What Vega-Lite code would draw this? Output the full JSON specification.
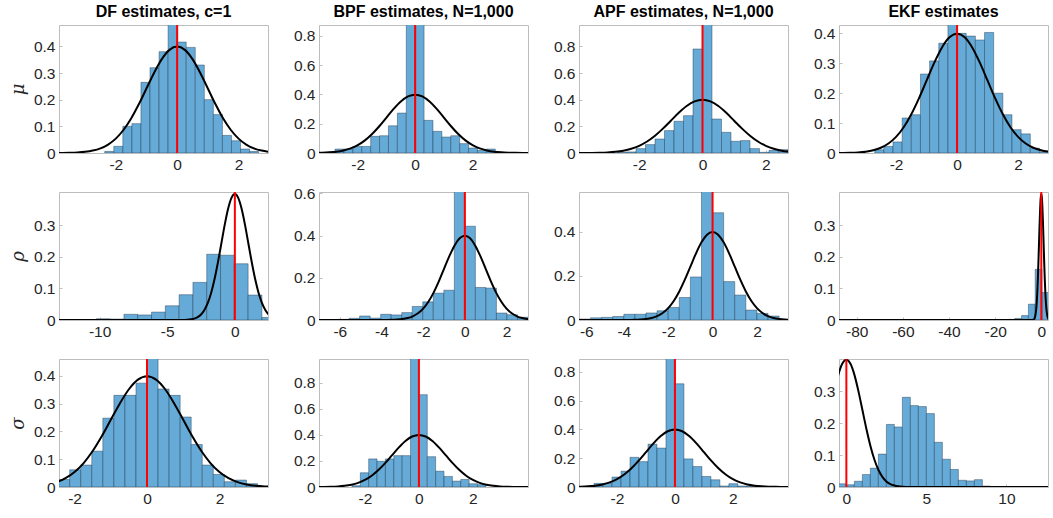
{
"$schema":"https://vega.github.io/schema/vega-lite/v6.json",
"background":"white",
"padding":{"left":8,"top":3,"right":5,"bottom":5},
"bounds":"flush",
"columns":4,
"spacing":{"row":39,"column":51},
"config":{
 "view":{"stroke":"#bdbdbd","strokeWidth":1},
 "axis":{"grid":false,"domain":false,"tickColor":"#bdbdbd","tickSize":-3,"tickCount":12,"labelPadding":7,"labelFont":"Liberation Sans","labelFontSize":15.5,"labelColor":"#262626","labelOverlap":false,"labelBound":false},
 "axisY":{"titleFont":"DejaVu Serif","titleFontStyle":"italic","titleFontWeight":"normal","titleFontSize":18,"titleColor":"#262626","titlePadding":6},
 "title":{"font":"Liberation Sans","fontSize":16,"fontWeight":"bold","color":"#000000","offset":4}
},
"datasets":{
 "ref":[{"x":0}],
 "curve":[{"x":-90,"y":0},{"x":-6,"y":0},{"x":-5,"y":0.0000015},{"x":-4.5,"y":0.000016},{"x":-4,"y":0.000134},{"x":-3.75,"y":0.000353},{"x":-3.5,"y":0.000873},{"x":-3.25,"y":0.00203},{"x":-3,"y":0.00443},{"x":-2.75,"y":0.00909},{"x":-2.5,"y":0.01753},{"x":-2.25,"y":0.03174},{"x":-2,"y":0.05399},{"x":-1.75,"y":0.08628},{"x":-1.5,"y":0.12952},{"x":-1.25,"y":0.18265},{"x":-1,"y":0.24197},{"x":-0.75,"y":0.30114},{"x":-0.5,"y":0.35207},{"x":-0.25,"y":0.38667},{"x":0,"y":0.39894},{"x":0.25,"y":0.38667},{"x":0.5,"y":0.35207},{"x":0.75,"y":0.30114},{"x":1,"y":0.24197},{"x":1.25,"y":0.18265},{"x":1.5,"y":0.12952},{"x":1.75,"y":0.08628},{"x":2,"y":0.05399},{"x":2.25,"y":0.03174},{"x":2.5,"y":0.01753},{"x":2.75,"y":0.00909},{"x":3,"y":0.00443},{"x":3.25,"y":0.00203},{"x":3.5,"y":0.000873},{"x":3.75,"y":0.000353},{"x":4,"y":0.000134},{"x":4.5,"y":0.000016},{"x":5,"y":0.0000015},{"x":6,"y":0},{"x":13,"y":0}],
 "hist":[
 {"p":"m1","a":-2.36,"b":-2.065,"h":0.006},{"p":"m1","a":-2.065,"b":-1.77,"h":0.025},{"p":"m1","a":-1.77,"b":-1.475,"h":0.10},{"p":"m1","a":-1.475,"b":-1.18,"h":0.11},{"p":"m1","a":-1.18,"b":-0.885,"h":0.265},{"p":"m1","a":-0.885,"b":-0.59,"h":0.32},{"p":"m1","a":-0.59,"b":-0.295,"h":0.38},{"p":"m1","a":-0.295,"b":0,"h":0.52},{"p":"m1","a":0,"b":0.295,"h":0.416},{"p":"m1","a":0.295,"b":0.59,"h":0.396},{"p":"m1","a":0.59,"b":0.885,"h":0.33},{"p":"m1","a":0.885,"b":1.18,"h":0.20},{"p":"m1","a":1.18,"b":1.475,"h":0.144},{"p":"m1","a":1.475,"b":1.77,"h":0.066},{"p":"m1","a":1.77,"b":2.065,"h":0.046},{"p":"m1","a":2.065,"b":2.36,"h":0.015},{"p":"m1","a":2.36,"b":2.655,"h":0.006},
 {"p":"m2","a":-2.79,"b":-2.48,"h":0.027},{"p":"m2","a":-2.48,"b":-2.17,"h":0.027},{"p":"m2","a":-2.17,"b":-1.86,"h":0.045},{"p":"m2","a":-1.86,"b":-1.55,"h":0.045},{"p":"m2","a":-1.55,"b":-1.24,"h":0.114},{"p":"m2","a":-1.24,"b":-0.93,"h":0.118},{"p":"m2","a":-0.93,"b":-0.62,"h":0.186},{"p":"m2","a":-0.62,"b":-0.31,"h":0.273},{"p":"m2","a":-0.31,"b":0,"h":1.0},{"p":"m2","a":0,"b":0.31,"h":1.0},{"p":"m2","a":0.31,"b":0.62,"h":0.223},{"p":"m2","a":0.62,"b":0.93,"h":0.148},{"p":"m2","a":0.93,"b":1.24,"h":0.109},{"p":"m2","a":1.24,"b":1.55,"h":0.118},{"p":"m2","a":1.55,"b":1.86,"h":0.064},{"p":"m2","a":1.86,"b":2.17,"h":0.034},{"p":"m2","a":2.17,"b":2.48,"h":0.018},{"p":"m2","a":2.48,"b":2.79,"h":0.027},
 {"p":"m3","a":-2.7,"b":-2.4,"h":0.005},{"p":"m3","a":-2.4,"b":-2.1,"h":0.008},{"p":"m3","a":-2.1,"b":-1.8,"h":0.033},{"p":"m3","a":-1.8,"b":-1.5,"h":0.063},{"p":"m3","a":-1.5,"b":-1.2,"h":0.105},{"p":"m3","a":-1.2,"b":-0.9,"h":0.168},{"p":"m3","a":-0.9,"b":-0.6,"h":0.238},{"p":"m3","a":-0.6,"b":-0.3,"h":0.28},{"p":"m3","a":-0.3,"b":0,"h":0.78},{"p":"m3","a":0,"b":0.3,"h":1.1},{"p":"m3","a":0.3,"b":0.6,"h":0.255},{"p":"m3","a":0.6,"b":0.9,"h":0.155},{"p":"m3","a":0.9,"b":1.2,"h":0.088},{"p":"m3","a":1.2,"b":1.5,"h":0.093},{"p":"m3","a":1.5,"b":1.8,"h":0.033},{"p":"m3","a":1.8,"b":2.1,"h":0.005},{"p":"m3","a":2.1,"b":2.4,"h":0.02},{"p":"m3","a":2.4,"b":2.7,"h":0.025},
 {"p":"m4","a":-2.7,"b":-2.4,"h":0.011},{"p":"m4","a":-2.4,"b":-2.1,"h":0.022},{"p":"m4","a":-2.1,"b":-1.8,"h":0.037},{"p":"m4","a":-1.8,"b":-1.5,"h":0.117},{"p":"m4","a":-1.5,"b":-1.2,"h":0.128},{"p":"m4","a":-1.2,"b":-0.9,"h":0.264},{"p":"m4","a":-0.9,"b":-0.6,"h":0.308},{"p":"m4","a":-0.6,"b":-0.3,"h":0.367},{"p":"m4","a":-0.3,"b":0,"h":0.44},{"p":"m4","a":0,"b":0.3,"h":0.40},{"p":"m4","a":0.3,"b":0.6,"h":0.391},{"p":"m4","a":0.6,"b":0.9,"h":0.378},{"p":"m4","a":0.9,"b":1.2,"h":0.403},{"p":"m4","a":1.2,"b":1.5,"h":0.20},{"p":"m4","a":1.5,"b":1.8,"h":0.128},{"p":"m4","a":1.8,"b":2.1,"h":0.078},{"p":"m4","a":2.1,"b":2.4,"h":0.064},{"p":"m4","a":2.4,"b":2.7,"h":0.016},{"p":"m4","a":2.7,"b":3.0,"h":0.004},
 {"p":"r1","a":-10.24,"b":-9.22,"h":0.004},{"p":"r1","a":-9.22,"b":-8.2,"h":0.003},{"p":"r1","a":-8.2,"b":-7.18,"h":0.018},{"p":"r1","a":-7.18,"b":-6.16,"h":0.016},{"p":"r1","a":-6.16,"b":-5.14,"h":0.025},{"p":"r1","a":-5.14,"b":-4.12,"h":0.045},{"p":"r1","a":-4.12,"b":-3.1,"h":0.08},{"p":"r1","a":-3.1,"b":-2.08,"h":0.119},{"p":"r1","a":-2.08,"b":-1.06,"h":0.208},{"p":"r1","a":-1.06,"b":-0.04,"h":0.205},{"p":"r1","a":-0.04,"b":0.98,"h":0.178},{"p":"r1","a":0.98,"b":2.0,"h":0.079},{"p":"r1","a":2.0,"b":3.02,"h":0.008},
 {"p":"r2","a":-6.06,"b":-5.555,"h":0.003},{"p":"r2","a":-5.555,"b":-5.05,"h":0.008},{"p":"r2","a":-5.05,"b":-4.545,"h":0.019},{"p":"r2","a":-4.545,"b":-4.04,"h":0.009},{"p":"r2","a":-4.04,"b":-3.535,"h":0.027},{"p":"r2","a":-3.535,"b":-3.03,"h":0.024},{"p":"r2","a":-3.03,"b":-2.525,"h":0.035},{"p":"r2","a":-2.525,"b":-2.02,"h":0.064},{"p":"r2","a":-2.02,"b":-1.515,"h":0.086},{"p":"r2","a":-1.515,"b":-1.01,"h":0.127},{"p":"r2","a":-1.01,"b":-0.505,"h":0.141},{"p":"r2","a":-0.505,"b":0,"h":0.65},{"p":"r2","a":0,"b":0.505,"h":0.444},{"p":"r2","a":0.505,"b":1.01,"h":0.154},{"p":"r2","a":1.01,"b":1.515,"h":0.151},{"p":"r2","a":1.515,"b":2.02,"h":0.033},{"p":"r2","a":2.02,"b":2.525,"h":0.025},{"p":"r2","a":2.525,"b":3.03,"h":0.013},
 {"p":"r3","a":-6,"b":-5.5,"h":0.0045},{"p":"r3","a":-5.5,"b":-5,"h":0.01},{"p":"r3","a":-5,"b":-4.5,"h":0.012},{"p":"r3","a":-4.5,"b":-4,"h":0.016},{"p":"r3","a":-4,"b":-3.5,"h":0.026},{"p":"r3","a":-3.5,"b":-3,"h":0.026},{"p":"r3","a":-3,"b":-2.5,"h":0.032},{"p":"r3","a":-2.5,"b":-2,"h":0.042},{"p":"r3","a":-2,"b":-1.5,"h":0.057},{"p":"r3","a":-1.5,"b":-1,"h":0.102},{"p":"r3","a":-1,"b":-0.5,"h":0.195},{"p":"r3","a":-0.5,"b":0,"h":0.62},{"p":"r3","a":0,"b":0.5,"h":0.486},{"p":"r3","a":0.5,"b":1,"h":0.174},{"p":"r3","a":1,"b":1.5,"h":0.113},{"p":"r3","a":1.5,"b":2,"h":0.045},{"p":"r3","a":2,"b":2.5,"h":0.03},{"p":"r3","a":2.5,"b":3,"h":0.018},
 {"p":"r4","a":-14.45,"b":-11.5,"h":0.002},{"p":"r4","a":-11.5,"b":-8.55,"h":0.005},{"p":"r4","a":-8.55,"b":-5.6,"h":0.014},{"p":"r4","a":-5.6,"b":-2.65,"h":0.05},{"p":"r4","a":-2.65,"b":0.3,"h":0.16},{"p":"r4","a":0.3,"b":3.25,"h":0.087},
 {"p":"s1","a":-2.44,"b":-2.135,"h":0.027},{"p":"s1","a":-2.135,"b":-1.83,"h":0.062},{"p":"s1","a":-1.83,"b":-1.525,"h":0.079},{"p":"s1","a":-1.525,"b":-1.22,"h":0.129},{"p":"s1","a":-1.22,"b":-0.915,"h":0.248},{"p":"s1","a":-0.915,"b":-0.61,"h":0.33},{"p":"s1","a":-0.61,"b":-0.305,"h":0.33},{"p":"s1","a":-0.305,"b":0,"h":0.374},{"p":"s1","a":0,"b":0.305,"h":0.48},{"p":"s1","a":0.305,"b":0.61,"h":0.353},{"p":"s1","a":0.61,"b":0.915,"h":0.33},{"p":"s1","a":0.915,"b":1.22,"h":0.252},{"p":"s1","a":1.22,"b":1.525,"h":0.153},{"p":"s1","a":1.525,"b":1.83,"h":0.079},{"p":"s1","a":1.83,"b":2.135,"h":0.045},{"p":"s1","a":2.135,"b":2.44,"h":0.019},{"p":"s1","a":2.44,"b":2.745,"h":0.025},{"p":"s1","a":2.745,"b":3.05,"h":0.012},
 {"p":"s2","a":-2.48,"b":-2.17,"h":0.01},{"p":"s2","a":-2.17,"b":-1.86,"h":0.109},{"p":"s2","a":-1.86,"b":-1.55,"h":0.215},{"p":"s2","a":-1.55,"b":-1.24,"h":0.197},{"p":"s2","a":-1.24,"b":-0.93,"h":0.215},{"p":"s2","a":-0.93,"b":-0.62,"h":0.24},{"p":"s2","a":-0.62,"b":-0.31,"h":0.24},{"p":"s2","a":-0.31,"b":0,"h":1.05},{"p":"s2","a":0,"b":0.31,"h":0.707},{"p":"s2","a":0.31,"b":0.62,"h":0.232},{"p":"s2","a":0.62,"b":0.93,"h":0.121},{"p":"s2","a":0.93,"b":1.24,"h":0.081},{"p":"s2","a":1.24,"b":1.55,"h":0.045},{"p":"s2","a":1.55,"b":1.86,"h":0.058},{"p":"s2","a":1.86,"b":2.17,"h":0.025},{"p":"s2","a":2.17,"b":2.48,"h":0.018},
 {"p":"s3","a":-2.79,"b":-2.48,"h":0.025},{"p":"s3","a":-2.48,"b":-2.17,"h":0.025},{"p":"s3","a":-2.17,"b":-1.86,"h":0.069},{"p":"s3","a":-1.86,"b":-1.55,"h":0.11},{"p":"s3","a":-1.55,"b":-1.24,"h":0.206},{"p":"s3","a":-1.24,"b":-0.93,"h":0.176},{"p":"s3","a":-0.93,"b":-0.62,"h":0.297},{"p":"s3","a":-0.62,"b":-0.31,"h":0.27},{"p":"s3","a":-0.31,"b":0,"h":0.95},{"p":"s3","a":0,"b":0.31,"h":0.716},{"p":"s3","a":0.31,"b":0.62,"h":0.195},{"p":"s3","a":0.62,"b":0.93,"h":0.142},{"p":"s3","a":0.93,"b":1.24,"h":0.073},{"p":"s3","a":1.24,"b":1.55,"h":0.05},{"p":"s3","a":1.55,"b":1.86,"h":0.007},{"p":"s3","a":1.86,"b":2.17,"h":0.023},{"p":"s3","a":2.17,"b":2.48,"h":0.007},{"p":"s3","a":2.48,"b":2.79,"h":0.005},
 {"p":"s4","a":-0.5,"b":0,"h":0.010},{"p":"s4","a":0,"b":0.5,"h":0.007},{"p":"s4","a":0.5,"b":1,"h":0.018},{"p":"s4","a":1,"b":1.5,"h":0.039},{"p":"s4","a":1.5,"b":2,"h":0.059},{"p":"s4","a":2,"b":2.5,"h":0.103},{"p":"s4","a":2.5,"b":3,"h":0.196},{"p":"s4","a":3,"b":3.5,"h":0.188},{"p":"s4","a":3.5,"b":4,"h":0.281},{"p":"s4","a":4,"b":4.5,"h":0.255},{"p":"s4","a":4.5,"b":5,"h":0.252},{"p":"s4","a":5,"b":5.5,"h":0.23},{"p":"s4","a":5.5,"b":6,"h":0.14},{"p":"s4","a":6,"b":6.5,"h":0.087},{"p":"s4","a":6.5,"b":7,"h":0.055},{"p":"s4","a":7,"b":7.5,"h":0.021},{"p":"s4","a":7.5,"b":8,"h":0.019},{"p":"s4","a":8,"b":8.5,"h":0.023},{"p":"s4","a":8.5,"b":9,"h":0.003}
 ]
},
"concat":[
 {"width":209,"height":128,"title":"DF estimates, c=1","layer":[
  {"data":{"name":"hist"},"transform":[{"filter":"datum.p=='m1'"}],"mark":{"type":"bar","clip":true,"fill":"#66aad7","stroke":"#1a3347","strokeWidth":0.6,"strokeOpacity":0.7},
   "encoding":{"x":{"field":"a","type":"quantitative","scale":{"domain":[-3.85,2.96],"nice":false,"zero":false},"axis":{"values":[-2,0,2],"tickCount":12,"title":null,"labelExpr":"''+datum.value"}},"x2":{"field":"b"},
   "y":{"field":"h","type":"quantitative","scale":{"domain":[0,0.48],"nice":false},"axis":{"values":[0,0.1,0.2,0.3,0.4],"tickCount":12,"title":"μ","labelExpr":"''+datum.value"}},"y2":{"datum":0}}},
  {"data":{"name":"curve"},"mark":{"type":"line","clip":true,"color":"#000000","strokeWidth":2,"interpolate":"monotone"},"encoding":{"x":{"field":"x","type":"quantitative"},"y":{"field":"y","type":"quantitative"}}},
  {"data":{"name":"ref"},"mark":{"type":"rule","color":"#ff0000","strokeWidth":2},"encoding":{"x":{"field":"x","type":"quantitative"}}}]},
 {"width":209,"height":128,"title":"BPF estimates, N=1,000","layer":[
  {"data":{"name":"hist"},"transform":[{"filter":"datum.p=='m2'"}],"mark":{"type":"bar","clip":true,"fill":"#66aad7","stroke":"#1a3347","strokeWidth":0.6,"strokeOpacity":0.7},
   "encoding":{"x":{"field":"a","type":"quantitative","scale":{"domain":[-3.35,3.93],"nice":false,"zero":false},"axis":{"values":[-2,0,2],"tickCount":12,"title":null,"labelExpr":"''+datum.value"}},"x2":{"field":"b"},
   "y":{"field":"h","type":"quantitative","scale":{"domain":[0,0.875],"nice":false},"axis":{"values":[0,0.2,0.4,0.6,0.8],"tickCount":12,"title":null,"labelExpr":"''+datum.value"}},"y2":{"datum":0}}},
  {"data":{"name":"curve"},"mark":{"type":"line","clip":true,"color":"#000000","strokeWidth":2,"interpolate":"monotone"},"encoding":{"x":{"field":"x","type":"quantitative"},"y":{"field":"y","type":"quantitative"}}},
  {"data":{"name":"ref"},"mark":{"type":"rule","color":"#ff0000","strokeWidth":2},"encoding":{"x":{"field":"x","type":"quantitative"}}}]},
 {"width":209,"height":128,"title":"APF estimates, N=1,000","layer":[
  {"data":{"name":"hist"},"transform":[{"filter":"datum.p=='m3'"}],"mark":{"type":"bar","clip":true,"fill":"#66aad7","stroke":"#1a3347","strokeWidth":0.6,"strokeOpacity":0.7},
   "encoding":{"x":{"field":"a","type":"quantitative","scale":{"domain":[-3.9,2.7],"nice":false,"zero":false},"axis":{"values":[-2,0,2],"tickCount":12,"title":null,"labelExpr":"''+datum.value"}},"x2":{"field":"b"},
   "y":{"field":"h","type":"quantitative","scale":{"domain":[0,0.96],"nice":false},"axis":{"values":[0,0.2,0.4,0.6,0.8],"tickCount":12,"title":null,"labelExpr":"''+datum.value"}},"y2":{"datum":0}}},
  {"data":{"name":"curve"},"mark":{"type":"line","clip":true,"color":"#000000","strokeWidth":2,"interpolate":"monotone"},"encoding":{"x":{"field":"x","type":"quantitative"},"y":{"field":"y","type":"quantitative"}}},
  {"data":{"name":"ref"},"mark":{"type":"rule","color":"#ff0000","strokeWidth":2},"encoding":{"x":{"field":"x","type":"quantitative"}}}]},
 {"width":209,"height":128,"title":"EKF estimates","layer":[
  {"data":{"name":"hist"},"transform":[{"filter":"datum.p=='m4'"}],"mark":{"type":"bar","clip":true,"fill":"#66aad7","stroke":"#1a3347","strokeWidth":0.6,"strokeOpacity":0.7},
   "encoding":{"x":{"field":"a","type":"quantitative","scale":{"domain":[-3.87,2.98],"nice":false,"zero":false},"axis":{"values":[-2,0,2],"tickCount":12,"title":null,"labelExpr":"''+datum.value"}},"x2":{"field":"b"},
   "y":{"field":"h","type":"quantitative","scale":{"domain":[0,0.428],"nice":false},"axis":{"values":[0,0.1,0.2,0.3,0.4],"tickCount":12,"title":null,"labelExpr":"''+datum.value"}},"y2":{"datum":0}}},
  {"data":{"name":"curve"},"mark":{"type":"line","clip":true,"color":"#000000","strokeWidth":2,"interpolate":"monotone"},"encoding":{"x":{"field":"x","type":"quantitative"},"y":{"field":"y","type":"quantitative"}}},
  {"data":{"name":"ref"},"mark":{"type":"rule","color":"#ff0000","strokeWidth":2},"encoding":{"x":{"field":"x","type":"quantitative"}}}]},
 {"width":209,"height":128,"layer":[
  {"data":{"name":"hist"},"transform":[{"filter":"datum.p=='r1'"}],"mark":{"type":"bar","clip":true,"fill":"#66aad7","stroke":"#1a3347","strokeWidth":0.6,"strokeOpacity":0.7},
   "encoding":{"x":{"field":"a","type":"quantitative","scale":{"domain":[-13,2.45],"nice":false,"zero":false},"axis":{"values":[-10,-5,0],"tickCount":12,"title":null,"labelExpr":"''+datum.value"}},"x2":{"field":"b"},
   "y":{"field":"h","type":"quantitative","scale":{"domain":[0,0.405],"nice":false},"axis":{"values":[0,0.1,0.2,0.3],"tickCount":12,"title":"ρ","labelExpr":"''+datum.value"}},"y2":{"datum":0}}},
  {"data":{"name":"curve"},"mark":{"type":"line","clip":true,"color":"#000000","strokeWidth":2,"interpolate":"monotone"},"encoding":{"x":{"field":"x","type":"quantitative"},"y":{"field":"y","type":"quantitative"}}},
  {"data":{"name":"ref"},"mark":{"type":"rule","color":"#ff0000","strokeWidth":2},"encoding":{"x":{"field":"x","type":"quantitative"}}}]},
 {"width":209,"height":128,"layer":[
  {"data":{"name":"hist"},"transform":[{"filter":"datum.p=='r2'"}],"mark":{"type":"bar","clip":true,"fill":"#66aad7","stroke":"#1a3347","strokeWidth":0.6,"strokeOpacity":0.7},
   "encoding":{"x":{"field":"a","type":"quantitative","scale":{"domain":[-7.0,3.03],"nice":false,"zero":false},"axis":{"values":[-6,-4,-2,0,2],"tickCount":12,"title":null,"labelExpr":"''+datum.value"}},"x2":{"field":"b"},
   "y":{"field":"h","type":"quantitative","scale":{"domain":[0,0.606],"nice":false},"axis":{"values":[0,0.2,0.4,0.6],"tickCount":12,"title":null,"labelExpr":"''+datum.value"}},"y2":{"datum":0}}},
  {"data":{"name":"curve"},"mark":{"type":"line","clip":true,"color":"#000000","strokeWidth":2,"interpolate":"monotone"},"encoding":{"x":{"field":"x","type":"quantitative"},"y":{"field":"y","type":"quantitative"}}},
  {"data":{"name":"ref"},"mark":{"type":"rule","color":"#ff0000","strokeWidth":2},"encoding":{"x":{"field":"x","type":"quantitative"}}}]},
 {"width":209,"height":128,"layer":[
  {"data":{"name":"hist"},"transform":[{"filter":"datum.p=='r3'"}],"mark":{"type":"bar","clip":true,"fill":"#66aad7","stroke":"#1a3347","strokeWidth":0.6,"strokeOpacity":0.7},
   "encoding":{"x":{"field":"a","type":"quantitative","scale":{"domain":[-6.02,3.4],"nice":false,"zero":false},"axis":{"values":[-6,-4,-2,0,2],"tickCount":12,"title":null,"labelExpr":"''+datum.value"}},"x2":{"field":"b"},
   "y":{"field":"h","type":"quantitative","scale":{"domain":[0,0.58],"nice":false},"axis":{"values":[0,0.2,0.4],"tickCount":12,"title":null,"labelExpr":"''+datum.value"}},"y2":{"datum":0}}},
  {"data":{"name":"curve"},"mark":{"type":"line","clip":true,"color":"#000000","strokeWidth":2,"interpolate":"monotone"},"encoding":{"x":{"field":"x","type":"quantitative"},"y":{"field":"y","type":"quantitative"}}},
  {"data":{"name":"ref"},"mark":{"type":"rule","color":"#ff0000","strokeWidth":2},"encoding":{"x":{"field":"x","type":"quantitative"}}}]},
 {"width":209,"height":128,"layer":[
  {"data":{"name":"hist"},"transform":[{"filter":"datum.p=='r4'"}],"mark":{"type":"bar","clip":true,"fill":"#66aad7","stroke":"#1a3347","strokeWidth":0.6,"strokeOpacity":0.7},
   "encoding":{"x":{"field":"a","type":"quantitative","scale":{"domain":[-87.7,2.9],"nice":false,"zero":false},"axis":{"values":[-80,-60,-40,-20,0],"tickCount":12,"title":null,"labelExpr":"''+datum.value"}},"x2":{"field":"b"},
   "y":{"field":"h","type":"quantitative","scale":{"domain":[0,0.405],"nice":false},"axis":{"values":[0,0.1,0.2,0.3],"tickCount":12,"title":null,"labelExpr":"''+datum.value"}},"y2":{"datum":0}}},
  {"data":{"name":"curve"},"mark":{"type":"line","clip":true,"color":"#000000","strokeWidth":2,"interpolate":"monotone"},"encoding":{"x":{"field":"x","type":"quantitative"},"y":{"field":"y","type":"quantitative"}}},
  {"data":{"name":"ref"},"mark":{"type":"rule","color":"#ff0000","strokeWidth":2},"encoding":{"x":{"field":"x","type":"quantitative"}}}]},
 {"width":209,"height":128,"layer":[
  {"data":{"name":"hist"},"transform":[{"filter":"datum.p=='s1'"}],"mark":{"type":"bar","clip":true,"fill":"#66aad7","stroke":"#1a3347","strokeWidth":0.6,"strokeOpacity":0.7},
   "encoding":{"x":{"field":"a","type":"quantitative","scale":{"domain":[-2.43,3.34],"nice":false,"zero":false},"axis":{"values":[-2,0,2],"tickCount":12,"title":null,"labelExpr":"''+datum.value"}},"x2":{"field":"b"},
   "y":{"field":"h","type":"quantitative","scale":{"domain":[0,0.461],"nice":false},"axis":{"values":[0,0.1,0.2,0.3,0.4],"tickCount":12,"title":"σ","labelExpr":"''+datum.value"}},"y2":{"datum":0}}},
  {"data":{"name":"curve"},"mark":{"type":"line","clip":true,"color":"#000000","strokeWidth":2,"interpolate":"monotone"},"encoding":{"x":{"field":"x","type":"quantitative"},"y":{"field":"y","type":"quantitative"}}},
  {"data":{"name":"ref"},"mark":{"type":"rule","color":"#ff0000","strokeWidth":2},"encoding":{"x":{"field":"x","type":"quantitative"}}}]},
 {"width":209,"height":128,"layer":[
  {"data":{"name":"hist"},"transform":[{"filter":"datum.p=='s2'"}],"mark":{"type":"bar","clip":true,"fill":"#66aad7","stroke":"#1a3347","strokeWidth":0.6,"strokeOpacity":0.7},
   "encoding":{"x":{"field":"a","type":"quantitative","scale":{"domain":[-3.7,4.04],"nice":false,"zero":false},"axis":{"values":[-2,0,2],"tickCount":12,"title":null,"labelExpr":"''+datum.value"}},"x2":{"field":"b"},
   "y":{"field":"h","type":"quantitative","scale":{"domain":[0,0.98],"nice":false},"axis":{"values":[0,0.2,0.4,0.6,0.8],"tickCount":12,"title":null,"labelExpr":"''+datum.value"}},"y2":{"datum":0}}},
  {"data":{"name":"curve"},"mark":{"type":"line","clip":true,"color":"#000000","strokeWidth":2,"interpolate":"monotone"},"encoding":{"x":{"field":"x","type":"quantitative"},"y":{"field":"y","type":"quantitative"}}},
  {"data":{"name":"ref"},"mark":{"type":"rule","color":"#ff0000","strokeWidth":2},"encoding":{"x":{"field":"x","type":"quantitative"}}}]},
 {"width":209,"height":128,"layer":[
  {"data":{"name":"hist"},"transform":[{"filter":"datum.p=='s3'"}],"mark":{"type":"bar","clip":true,"fill":"#66aad7","stroke":"#1a3347","strokeWidth":0.6,"strokeOpacity":0.7},
   "encoding":{"x":{"field":"a","type":"quantitative","scale":{"domain":[-3.31,3.9],"nice":false,"zero":false},"axis":{"values":[-2,0,2],"tickCount":12,"title":null,"labelExpr":"''+datum.value"}},"x2":{"field":"b"},
   "y":{"field":"h","type":"quantitative","scale":{"domain":[0,0.888],"nice":false},"axis":{"values":[0,0.2,0.4,0.6,0.8],"tickCount":12,"title":null,"labelExpr":"''+datum.value"}},"y2":{"datum":0}}},
  {"data":{"name":"curve"},"mark":{"type":"line","clip":true,"color":"#000000","strokeWidth":2,"interpolate":"monotone"},"encoding":{"x":{"field":"x","type":"quantitative"},"y":{"field":"y","type":"quantitative"}}},
  {"data":{"name":"ref"},"mark":{"type":"rule","color":"#ff0000","strokeWidth":2},"encoding":{"x":{"field":"x","type":"quantitative"}}}]},
 {"width":209,"height":128,"layer":[
  {"data":{"name":"hist"},"transform":[{"filter":"datum.p=='s4'"}],"mark":{"type":"bar","clip":true,"fill":"#66aad7","stroke":"#1a3347","strokeWidth":0.6,"strokeOpacity":0.7},
   "encoding":{"x":{"field":"a","type":"quantitative","scale":{"domain":[-0.46,12.6],"nice":false,"zero":false},"axis":{"values":[0,5,10],"tickCount":12,"title":null,"labelExpr":"''+datum.value"}},"x2":{"field":"b"},
   "y":{"field":"h","type":"quantitative","scale":{"domain":[0,0.401],"nice":false},"axis":{"values":[0,0.1,0.2,0.3],"tickCount":12,"title":null,"labelExpr":"''+datum.value"}},"y2":{"datum":0}}},
  {"data":{"name":"curve"},"mark":{"type":"line","clip":true,"color":"#000000","strokeWidth":2,"interpolate":"monotone"},"encoding":{"x":{"field":"x","type":"quantitative"},"y":{"field":"y","type":"quantitative"}}},
  {"data":{"name":"ref"},"mark":{"type":"rule","color":"#ff0000","strokeWidth":2},"encoding":{"x":{"field":"x","type":"quantitative"}}}]}
]
}
